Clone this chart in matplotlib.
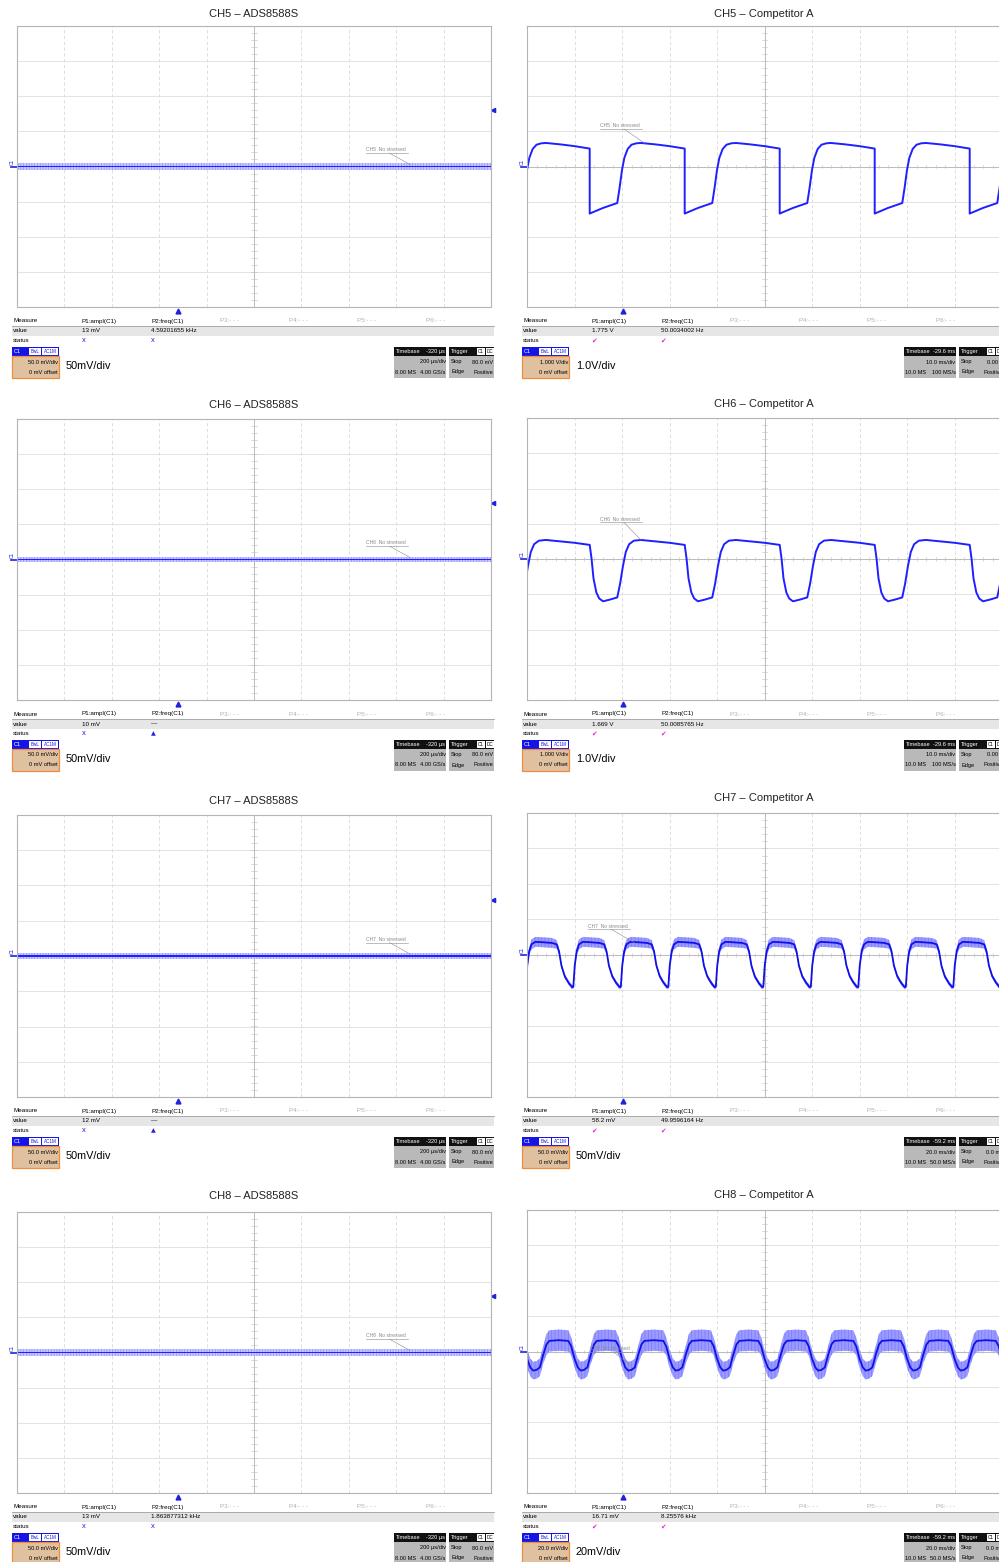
import numpy as np
import matplotlib
matplotlib.use("Agg")
import matplotlib.pyplot as plt
from matplotlib.patches import Rectangle

W, H = 999, 1562
SMALL = ["Liberation Sans Narrow", "Liberation Sans", "DejaVu Sans"]
BIG = ["Liberation Sans", "DejaVu Sans"]
plt.rcParams["hatch.linewidth"] = 0.5

# ---------------- data ----------------
channels = ["CH5", "CH6", "CH7", "CH8"]
ads_titles = ["CH5 – ADS8588S", "CH6 – ADS8588S", "CH7 – ADS8588S", "CH8 – ADS8588S"]
comp_titles = ["CH5 – Competitor A", "CH6 – Competitor A", "CH7 – Competitor A", "CH8 – Competitor A"]

# ADS8588S: flat noisy trace around 0 mV, 50 mV/div, 200 us/div
ads_t_us = [0, 2000]
ads_level_mv = [0.0, 0.0, 0.0, 0.0]
ads_noise_mv = [4.5, 4.0, 4.0, 4.5]
ads_core_mv = [1.2, 1.1, 1.1, 1.2]
ads_ampl = ["13 mV", "10 mV", "12 mV", "13 mV"]
ads_freq = ["4.59201655 kHz", "—", "—", "1.863877312 kHz"]
ads_status2 = ["x", "tri", "tri", "x"]
ads_vdiv_mv = 50.0
ads_tdiv_us = 200.0

# Competitor A: one period of each waveform (time in ms from rise start)
ch5_t = [0, 0.5, 1.0, 1.5, 2.2, 3.0, 4.0, 5.0, 8.0, 11.0, 14.2, 14.2, 17.0, 20.0]
ch5_v = [-1.04, -0.6, -0.1, 0.25, 0.5, 0.62, 0.66, 0.67, 0.63, 0.58, 0.51, -1.34, -1.18, -1.04]
ch5_band = [0.03] * 14

ch6_t = [0, 0.6, 1.2, 1.8, 2.5, 3.5, 5.0, 8.0, 11.0, 14.2, 14.6, 15.0, 15.6, 16.2, 17.0, 18.5, 20.0]
ch6_v = [-1.09, -0.7, -0.2, 0.2, 0.42, 0.52, 0.54, 0.5, 0.46, 0.40, 0.0, -0.55, -0.95, -1.12, -1.2, -1.15, -1.09]
ch6_band = [0.03] * 17

ch7_t = [0, 0.6, 1.4, 2.4, 4.0, 7.0, 11.0, 13.0, 14.0, 15.0, 16.4, 18.0, 19.4, 20.0]
ch7_v = [-45, -15, 5, 15, 18.5, 18, 17, 15, 5, -15, -30, -39, -45, -45]
ch7_band = [3, 4, 6, 7, 7, 7, 7, 6, 4, 3, 3, 3, 3, 3]

ch8_t = [0, 1.4, 2.8, 4.0, 8.0, 12.0, 13.2, 14.6, 16.0, 17.2, 18.6, 20.0]
ch8_v = [-9, -2, 4, 6, 6.4, 6, 3, -4, -9, -10.8, -10.4, -9]
ch8_band = [5, 5, 6, 6, 6, 6, 5, 5, 5, 5, 5, 5]

comp_t = [ch5_t, ch6_t, ch7_t, ch8_t]
comp_v = [ch5_v, ch6_v, ch7_v, ch8_v]
comp_band = [ch5_band, ch6_band, ch7_band, ch8_band]
comp_period_ms = [20.0, 20.0, 20.0, 20.0]
comp_phase_ms = [1.0, 1.0, 0.5, -5.4]
comp_vdiv = [1.0, 1.0, 50.0, 20.0]
comp_tdiv_ms = [10.0, 10.0, 20.0, 20.0]
comp_ampl = ["1.775 V", "1.669 V", "58.2 mV", "16.71 mV"]
comp_freq = ["50.0034002 Hz", "50.0085765 Hz", "49.9596164 Hz", "8.25576 kHz"]
comp_vdiv_txt = ["1.000 V/div", "1.000 V/div", "50.0 mV/div", "20.0 mV/div"]
comp_scale = ["1.0V/div", "1.0V/div", "50mV/div", "20mV/div"]
comp_tb = ["-29.6 ms", "-29.6 ms", "-59.2 ms", "-59.2 ms"]
comp_tdiv_txt = ["10.0 ms/div", "10.0 ms/div", "20.0 ms/div", "20.0 ms/div"]
comp_srate = ["100 MS/s", "100 MS/s", "50.0 MS/s", "50.0 MS/s"]
comp_trig = ["0.00 V", "0.00 V", "0.0 mV", "0.0 mV"]

# ---------------- layout (pixels) ----------------
LEFT_X = (17, 491)
RIGHT_X = (527, 1002)
rows_left = [(26, 307), (419, 700), (815, 1097), (1212, 1493)]
rows_right = [(26, 307), (418, 700), (813, 1097), (1210, 1493)]
title_y_left = [14, 405, 801, 1196]
title_y_right = [14, 404, 798, 1195]
lab_left = [(7.36, 0.40, 8.3, 0.05)] * 4
lab_right = [(1.54, 1.09, 2.48, 0.66), (1.54, 1.06, 2.4, 0.54),
             (1.28, 0.74, 2.27, 0.34), (1.33, 0.0, 2.2, -0.42)]

TRACE = "#1f1fff"
BAND = "#8c8cff"

fig = plt.figure(figsize=(W / 100, H / 100), dpi=100)


def ftext(x, y, s, **kw):
    kw.setdefault("family", SMALL)
    kw.setdefault("fontsize", 4.5)
    kw.setdefault("va", "center")
    fig.text(x / W, 1 - y / H, s, **kw)


def frect(x0, y0, x1, y1, **kw):
    kw.setdefault("lw", 0)
    fig.add_artist(Rectangle((x0 / W, 1 - y1 / H), (x1 - x0) / W, (y1 - y0) / H,
                             transform=fig.transFigure, **kw))


def screen(x0, x1, y0, y1):
    ax = fig.add_axes([x0 / W, 1 - y1 / H, (x1 - x0) / W, (y1 - y0) / H])
    ax.set_xlim(0, 10)
    ax.set_ylim(-4, 4)
    ax.set_xticks([])
    ax.set_yticks([])
    for s in ax.spines.values():
        s.set_color("#b4b4b4")
        s.set_linewidth(0.8)
    for i in range(1, 10):
        if i != 5:
            ax.axvline(i, color="#d9d9d9", lw=0.6, ls=(0, (4, 3)), zorder=0)
    for j in range(-3, 4):
        if j != 0:
            ax.axhline(j, color="#dedede", lw=0.6, zorder=0)
    ax.axvline(5, color="#b0b0b0", lw=0.6, zorder=0)
    ax.axhline(0, color="#b0b0b0", lw=0.6, zorder=0)
    for t in np.arange(0.2, 10, 0.2):
        ax.plot([t, t], [-0.05, 0.05], color="#c0c0c0", lw=0.4, zorder=0)
    for t in np.arange(-3.8, 4, 0.2):
        ax.plot([4.94, 5.06], [t, t], color="#c0c0c0", lw=0.4, zorder=0)
    return ax


def periodic(t, v, b, period, phase, span):
    ts, vs, bs = [], [], []
    for k in range(-2, int(span / period) + 3):
        ts.extend(np.array(t) + k * period + phase)
        vs.extend(v)
        bs.extend(b)
    return np.array(ts), np.array(vs), np.array(bs)


def stamp_label(ax, ch, lx, ly, ex, ey):
    ax.text(lx, ly, f"{ch}  No stressed", fontsize=3.6, color="#8a8a8a",
            family=SMALL, va="bottom", ha="left")
    ax.plot([lx, lx + 0.88], [ly - 0.02, ly - 0.02], color="#8a8a8a", lw=0.4)
    ax.plot([lx + 0.5, ex], [ly - 0.02, ey], color="#8a8a8a", lw=0.4)


def markers(ax, px0, yc, trig_x):
    ax.plot([trig_x], [-4.12], marker="^", color="#2020e0", ms=3.5, clip_on=False)
    ax.plot([10.05], [1.6], marker="<", color="#2020e0", ms=3.0, clip_on=False)
    ax.plot([-0.12, 0], [0, 0], color="#2020e0", lw=1.2, clip_on=False)
    ftext(px0 - 5, yc - 5, "C1", fontsize=3.4, color="#2020e0", rotation=90, ha="center")


def info(px0, yb, ampl, freq, st1, st2, vdiv, scale, tb, tdiv, mem, srate, trig):
    xl = px0 - 5
    y = yb + 14
    ftext(xl + 1, y, "Measure")
    ftext(px0 + 65, y, "P1:ampl(C1)")
    ftext(px0 + 134, y, "P2:freq(C1)")
    for i, off in enumerate([203, 272, 340, 409]):
        ftext(px0 + off, y, f"P{i + 3}:- - -", color="#b0b0b0")
    frect(xl, yb + 19, px0 + 477, yb + 29, fc="#e6e6e6")
    fig.add_artist(plt.Line2D([xl / W, (px0 + 477) / W], [1 - (yb + 19) / H] * 2,
                              transform=fig.transFigure, color="#a0a0a0", lw=0.6))
    ftext(xl + 1, yb + 24, "value")
    ftext(px0 + 65, yb + 24, ampl)
    ftext(px0 + 134, yb + 24, freq)
    ftext(xl + 1, yb + 34, "status")
    for col, st in zip([px0 + 67, px0 + 136], [st1, st2]):
        if st == "x":
            ftext(col, yb + 34, "x", color="#2020e0", fontsize=5.5, family=BIG, ha="center")
        elif st == "tri":
            ftext(col, yb + 34, "▲", color="#2020e0", fontsize=4.5, family=["DejaVu Sans"], ha="center")
        else:
            ftext(col, yb + 34, "✔", color="#e020e0", fontsize=4.8, family=["DejaVu Sans"], ha="center")
    # C1 channel box
    bs = 4.1
    frect(xl, yb + 40, xl + 47, yb + 49, fc="#1414e6")
    frect(xl, yb + 49, xl + 47, yb + 71, fc="#dfc09f", ec="#f08c3c", lw=0.9)
    ftext(xl + 2, yb + 44.5, "C1", color="white", fontsize=bs)
    frect(xl + 17, yb + 41, xl + 29, yb + 48, fc="white")
    frect(xl + 30, yb + 41, xl + 46, yb + 48, fc="white")
    ftext(xl + 23, yb + 44.5, "BwL", color="#1414e6", fontsize=3.3, ha="center")
    ftext(xl + 38, yb + 44.5, "AC1M", color="#1414e6", fontsize=3.3, ha="center")
    ftext(xl + 46, yb + 55, vdiv, ha="right", fontsize=bs)
    ftext(xl + 46, yb + 65, "0 mV offset", ha="right", fontsize=bs)
    ftext(px0 + 49, yb + 59, scale, family=BIG, fontsize=7.8)
    # timebase
    tx0, tx1 = px0 + 377, px0 + 429
    frect(tx0, yb + 40, tx1, yb + 49, fc="#111111")
    frect(tx0, yb + 49, tx1, yb + 71, fc="#b9b9b9")
    ftext(tx0 + 1.5, yb + 44.5, "Timebase", color="white", fontsize=bs)
    ftext(tx1 - 0.5, yb + 44.5, tb, color="white", ha="right", fontsize=bs)
    ftext(tx1 - 0.5, yb + 55, tdiv, ha="right", fontsize=bs)
    ftext(tx0 + 1, yb + 65, mem, fontsize=bs)
    ftext(tx1 - 0.5, yb + 65, srate, ha="right", fontsize=bs)
    # trigger
    gx0, gx1 = px0 + 432, px0 + 477
    frect(gx0, yb + 40, gx1, yb + 49, fc="#111111")
    frect(gx0, yb + 49, gx1, yb + 71, fc="#b9b9b9")
    ftext(gx0 + 2, yb + 44.5, "Trigger", color="white", fontsize=bs)
    frect(gx0 + 28, yb + 41, gx0 + 36, yb + 48, fc="white")
    frect(gx0 + 37, yb + 41, gx0 + 45, yb + 48, fc="white")
    ftext(gx0 + 32, yb + 44.5, "C1", fontsize=3.3, ha="center")
    ftext(gx0 + 41, yb + 44.5, "DC", fontsize=3.3, ha="center")
    ftext(gx0 + 2, yb + 55, "Stop", fontsize=bs)
    ftext(gx1 - 0.5, yb + 55, trig, ha="right", fontsize=bs)
    ftext(gx0 + 2, yb + 65, "Edge", fontsize=bs)
    ftext(gx1 - 0.5, yb + 65, "Positive", ha="right", fontsize=bs)


for r in range(4):
    # ---- ADS8588S (left) ----
    y0, y1 = rows_left[r]
    ax = screen(LEFT_X[0], LEFT_X[1], y0, y1)
    xs = np.array(ads_t_us) / ads_tdiv_us
    lvl = np.array([ads_level_mv[r]] * 2) / ads_vdiv_mv
    ax.fill_between(xs, lvl - ads_noise_mv[r] / ads_vdiv_mv, lvl + ads_noise_mv[r] / ads_vdiv_mv,
                    facecolor="#c8c8ff", edgecolor=BAND, hatch="||||||", lw=0)
    ax.fill_between(xs, lvl - ads_core_mv[r] / ads_vdiv_mv, lvl + ads_core_mv[r] / ads_vdiv_mv,
                    color=TRACE, lw=0)
    stamp_label(ax, channels[r], *lab_left[r])
    markers(ax, LEFT_X[0], (y0 + y1) / 2, 3.4)
    ftext(sum(LEFT_X) / 2, title_y_left[r], ads_titles[r], family=BIG, fontsize=8,
          ha="center", color="#222222")
    info(LEFT_X[0], y1, ads_ampl[r], ads_freq[r], "x", ads_status2[r], "50.0 mV/div",
         "50mV/div", "-320 µs", "200 µs/div", "8.00 MS", "4.00 GS/s", "80.0 mV")

    # ---- Competitor A (right) ----
    y0, y1 = rows_right[r]
    ax = screen(RIGHT_X[0], RIGHT_X[1], y0, y1)
    ts, vs, bs = periodic(comp_t[r], comp_v[r], comp_band[r], comp_period_ms[r],
                          -comp_phase_ms[r], 10 * comp_tdiv_ms[r])
    keep = (ts >= -comp_period_ms[r]) & (ts <= 11 * comp_tdiv_ms[r])
    ts, vs, bs = ts[keep] / comp_tdiv_ms[r], vs[keep] / comp_vdiv[r], bs[keep] / comp_vdiv[r]
    if r >= 2:
        ax.fill_between(ts, vs - bs, vs + bs, facecolor="#9a9aff", edgecolor="#7a7aff",
                        hatch="|||||", lw=0)
        ax.plot(ts, vs, color="#1010e8", lw=1.3)
    else:
        ax.plot(ts, vs, color=TRACE, lw=1.4)
    stamp_label(ax, channels[r], *lab_right[r])
    markers(ax, RIGHT_X[0], (y0 + y1) / 2, 2.02)
    ftext(764, title_y_right[r], comp_titles[r], family=BIG, fontsize=8,
          ha="center", color="#222222")
    info(RIGHT_X[0], y1, comp_ampl[r], comp_freq[r], "ok", "ok", comp_vdiv_txt[r],
         comp_scale[r], comp_tb[r], comp_tdiv_txt[r], "10.0 MS", comp_srate[r], comp_trig[r])

fig.savefig("out.png", dpi=100)
